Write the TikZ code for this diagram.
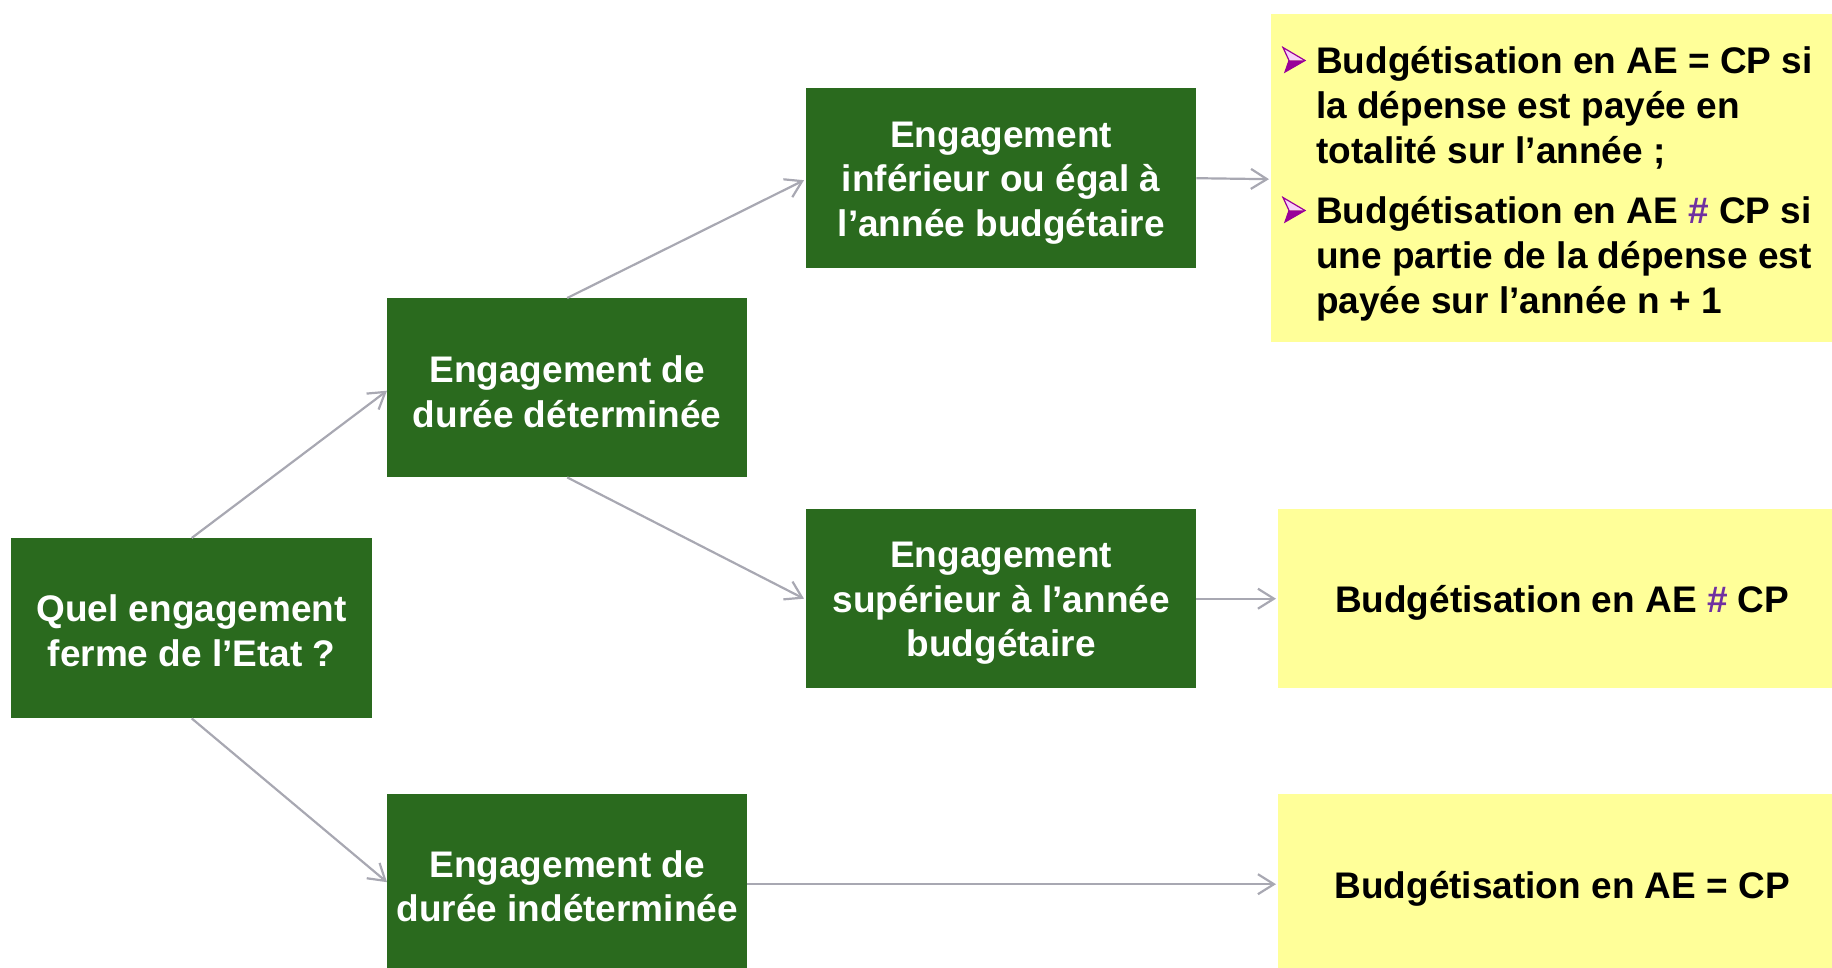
\documentclass[tikz,border=0pt]{standalone}
\usepackage{fontspec}
\setmainfont{Liberation Sans}
\usetikzlibrary{arrows.meta}

\definecolor{boxgreen}{RGB}{42,106,30}
\definecolor{noteyellow}{RGB}{255,255,153}
\definecolor{linkgray}{RGB}{168,168,178}
\definecolor{hashpurple}{RGB}{112,48,160}
\definecolor{bulletpurple}{RGB}{153,0,153}
\definecolor{bulletpink}{RGB}{248,210,248}

% arrowhead-shaped bullet, placed at the baseline of a text line
\newcommand\budgetbullet[2]{%
  \fill[bulletpink] (#1,#2-25.5) -- (#1+22,#2-12.5) -- (#1+6,#2-12.5) -- cycle;
  \fill[bulletpurple] (#1+6,#2-12.5) -- (#1+22,#2-12.5) -- (#1+2,#2-1) -- cycle;
  \draw[bulletpurple, line width=1.2pt, line join=miter]
    (#1,#2-25.5) -- (#1+22,#2-12.5) -- (#1+2,#2-1) -- (#1+6,#2-12.5) -- cycle;
}
% taller first line, so that centred text sits a little lower in its box
\newcommand\lowerstrut{\rule{0pt}{35pt}}

\begin{document}
\begin{tikzpicture}[x=1pt,y=-1pt,
  greenbox/.style={fill=boxgreen, text=white, inner sep=0pt, anchor=north west,
    align=center, font=\bfseries\fontsize{37}{44.5}\selectfont},
  yellowbox/.style={fill=noteyellow, text=black, inner sep=0pt, anchor=north west,
    align=center, font=\bfseries\fontsize{37}{45}\selectfont},
  bullettext/.style={anchor=base west, inner sep=0pt, text=black,
    font=\bfseries\fontsize{37}{45}\selectfont},
  link/.style={draw=linkgray, line width=2.2pt,
    -{Straight Barb[length=16pt,width=20pt]}}
]
\useasboundingbox (0,0) rectangle (1832,968);
\clip (0,0) rectangle (1832,968);

% decision boxes
\node[greenbox, minimum width=361pt, minimum height=180pt] (q) at (11,538)
  {\rule{0pt}{32pt}Quel engagement\\ferme de l’Etat ?};
\node[greenbox, minimum width=360pt, minimum height=179pt] (d) at (387,298)
  {\lowerstrut Engagement de\\durée déterminée};
\node[greenbox, minimum width=360pt, minimum height=176pt] (i) at (387,794)
  {\lowerstrut Engagement de\\durée indéterminée};
\node[greenbox, minimum width=390pt, minimum height=180pt] (e1) at (806,88)
  {\lowerstrut Engagement\\inférieur ou égal à\\l’année budgétaire};
\node[greenbox, minimum width=390pt, minimum height=179pt] (e2) at (806,509)
  {\lowerstrut Engagement\\supérieur à l’année\\budgétaire};

% budget outcomes
\node[yellowbox, minimum width=561pt, minimum height=328pt] (y1) at (1271,14) {};
\node[bullettext] (p1) at (1316,74)
  {\parbox[t]{515pt}{Budgétisation en AE = CP si\\la dépense est payée en\\totalité sur l’année ;}};
\node[bullettext] (p2) at (1316,224)
  {\parbox[t]{515pt}{Budgétisation en AE {\color{hashpurple}\#} CP si\\une partie de la dépense est\\payée sur l’année n + 1}};
\budgetbullet{1283}{73}
\budgetbullet{1283}{223}

\node[yellowbox, minimum width=554pt, minimum height=179pt] (y2) at (1278,509)
  {\lowerstrut\hspace*{14pt}Budgétisation en AE {\color{hashpurple}\#} CP};
\node[yellowbox, minimum width=554pt, minimum height=181pt] (y3) at (1278,794)
  {\lowerstrut\hspace*{14pt}Budgétisation en AE = CP};

% connectors
\draw[link] (q.north) -- ([yshift=-3pt]d.west);
\draw[link] (q.south) -- (i.west);
\draw[link] (d.north) -- ([shift={(-2pt,-2pt)}]e1.west);
\draw[link] (d.south) -- ([xshift=-2pt]e2.west);
\draw[link, shorten >=2pt] (e1.east) -- ([yshift=-1pt]y1.west |- e1.east);
\draw[link, shorten >=2pt] (e2.east) -- (y2.west |- e2.east);
\draw[link, shorten >=2pt] ([yshift=-2pt]i.east) -- ([yshift=-2pt]y3.west |- i.east);
\end{tikzpicture}
\end{document}
